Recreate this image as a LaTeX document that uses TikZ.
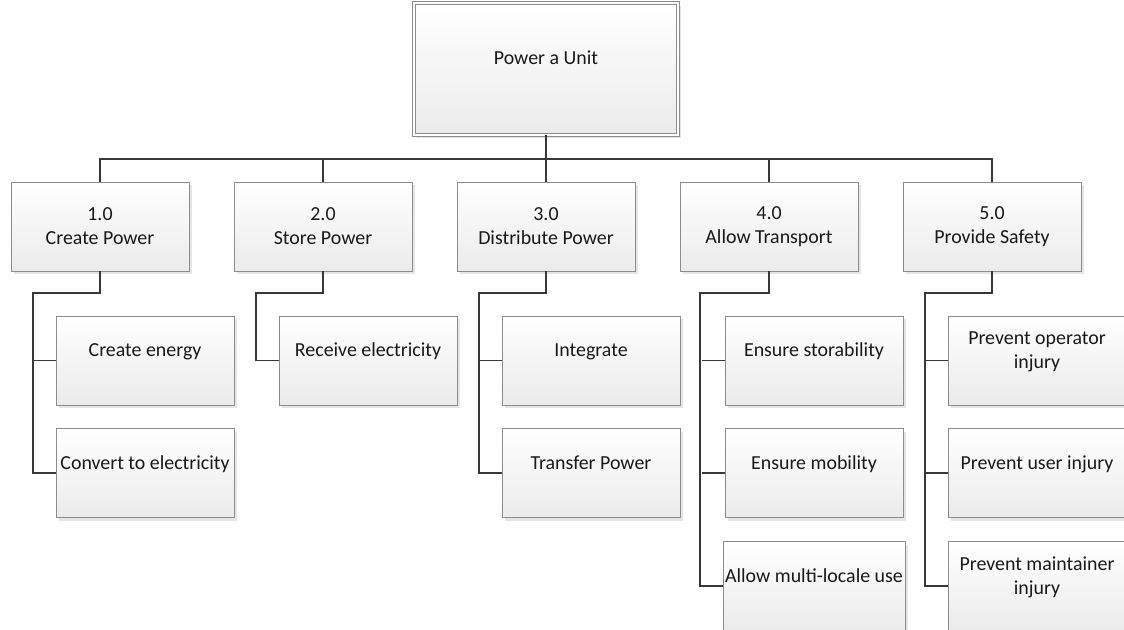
\documentclass[tikz,border=0pt]{standalone}
\usepackage{fontspec}
\setmainfont{Carlito}
\usetikzlibrary{positioning,shadows}

\tikzset{
  funcbox/.style={draw=black!45, line width=0.8pt, top color=white, bottom color=black!8,
    minimum width=178pt, minimum height=89pt, inner sep=2pt, align=center, text=black!90,
    font=\fontsize{19.9}{24}\selectfont,
    drop shadow={shadow xshift=3pt, shadow yshift=-3pt, fill=black!10, opacity=1}},
  subbox/.style={funcbox, text depth=21pt},
  unitbox/.style={funcbox, double=white, double distance=2.4pt, minimum width=264pt,
    minimum height=132pt, text depth=23pt},
  link/.style={line width=1.9pt, draw=black!78},
}

\begin{document}
\begin{tikzpicture}[x=1pt,y=-1pt]
	\useasboundingbox (0,0) rectangle (1124,629);
	\node[unitbox] (unit) at (546,69) {Power a Unit};
	\node[funcbox] (create) at (100,226.5) {1.0\\Create Power};
	\node[funcbox] (store) at (323,226.5) {2.0\\Store Power};
	\node[funcbox] (dist) at (546,226.5) {3.0\\Distribute Power};
	\node[funcbox] (allow) at (769,226.5) {4.0\\Allow Transport};
	\node[funcbox] (safety) at (992,226.5) {5.0\\Provide Safety};
	\node[subbox] (energy) at (145,360.5) {Create energy};
	\node[subbox, below=23pt of energy] (convert) {Convert to electricity};
	\node[subbox] (receive) at (368,360.5) {Receive electricity};
	\node[subbox] (integrate) at (591,360.5) {Integrate};
	\node[subbox, below=23pt of integrate] (transfer) {Transfer Power};
	\node[subbox] (storab) at (814,360.5) {Ensure storability};
	\node[subbox, below=23pt of storab] (mobil) {Ensure mobility};
	\node[subbox, below=23pt of mobil] (locale) {Allow multi-locale use};
	\node[subbox] (operator) at (1037,360.5) {Prevent operator\\injury};
	\node[subbox, below=23pt of operator] (user) {Prevent user injury};
	\node[subbox, below=23pt of user] (maint) {Prevent maintainer\\injury};
	\coordinate (bus) at (546,159);
	\draw[link] (unit.south) -- (dist.north);
	\draw[link] (create.north) |- (bus) -| (safety.north);
	\draw[link] (store.north) -- (store.north |- bus);
	\draw[link] (allow.north) -- (allow.north |- bus);
	\draw[link] (create.south) -- ++(0,22) -| ([xshift=-23pt]convert.west) -- (convert.west);
	\draw[link] ([xshift=-23pt]energy.west) -- (energy.west);
	\draw[link] (store.south) -- ++(0,22) -| ([xshift=-23pt]receive.west) -- (receive.west);
	\draw[link] (dist.south) -- ++(0,22) -| ([xshift=-23pt]transfer.west) -- (transfer.west);
	\draw[link] ([xshift=-23pt]integrate.west) -- (integrate.west);
	\draw[link] (allow.south) -- ++(0,22) -| ([xshift=-23pt]locale.west) -- (locale.west);
	\draw[link] ([xshift=-23pt]storab.west) -- (storab.west);
	\draw[link] ([xshift=-23pt]mobil.west) -- (mobil.west);
	\draw[link] (safety.south) -- ++(0,22) -| ([xshift=-23pt]maint.west) -- (maint.west);
	\draw[link] ([xshift=-23pt]operator.west) -- (operator.west);
	\draw[link] ([xshift=-23pt]user.west) -- (user.west);
\end{tikzpicture}
\end{document}
